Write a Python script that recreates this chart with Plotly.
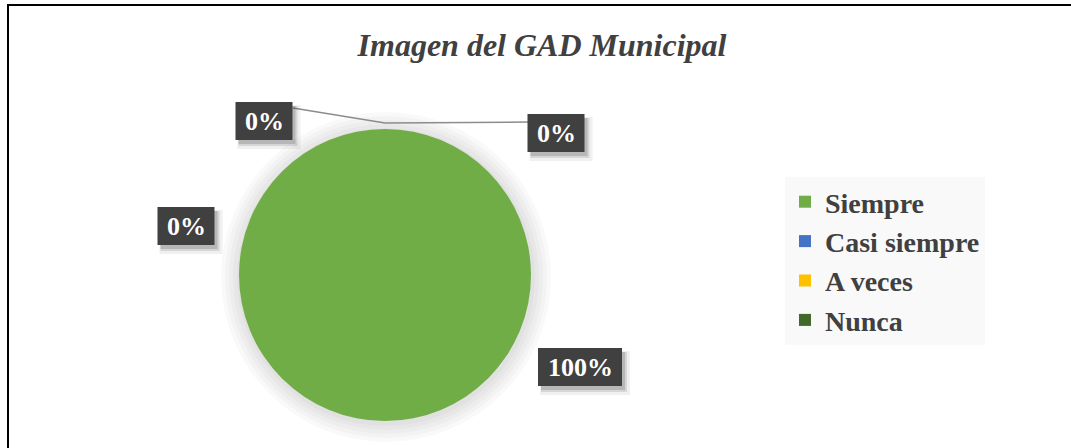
import plotly.graph_objects as go

categories = ["Siempre", "Casi siempre", "A veces", "Nunca"]
values = [100, 0, 0, 0]
colors = ["#70AD47", "#4472C4", "#FFC000", "#43682B"]
title_text = "Imagen del GAD Municipal"

W, H = 1071, 448
total = sum(values)
pct = [f"{round(v * 100 / total)}%" for v in values]

# pie geometry in pixels
PCX, PCY, PR = 385, 275, 146

def px(x, y):
    return x / W, 1 - y / H

fig = go.Figure()

# soft glow behind the pie
for i in range(5):
    r = PR + 3 + 4 * i
    x0, y0 = px(PCX - r + 1, PCY - r + 2)
    x1, y1 = px(PCX + r + 1, PCY + r + 2)
    fig.add_shape(type="circle", xref="paper", yref="paper", x0=x0, y0=y1, x1=x1, y1=y0,
                  fillcolor="rgba(0,0,0,0.022)", line=dict(width=0), layer="below")

fig.add_trace(go.Pie(
    labels=categories,
    values=values,
    marker=dict(colors=colors, line=dict(width=0)),
    textinfo="none",
    sort=False,
    direction="clockwise",
    rotation=0,
    hoverinfo="label+percent",
    domain=dict(x=[(PCX - PR) / W, (PCX + PR) / W], y=[(H - PCY - PR) / H, (H - PCY + PR) / H]),
    showlegend=True,
))

# label box positions (pixels: center x, center y) for each category in order
label_pos = [(580, 367), (556, 133), (264, 121), (186, 226)]

# leader lines
line_pts = [(293, 108), (385, 123), (528, 122)]
for (x0, y0), (x1, y1) in zip(line_pts[:-1], line_pts[1:]):
    a0, b0 = px(x0, y0)
    a1, b1 = px(x1, y1)
    fig.add_shape(type="line", xref="paper", yref="paper", x0=a0, y0=b0, x1=a1, y1=b1,
                  line=dict(color="#8c8c8c", width=1.5))

for t, (cx, cy) in zip(pct, label_pos):
    bw = 84 if len(t) > 2 else 57
    bh = 38
    # shadow (blurred look with stacked translucent rects)
    for dx, dy, grow, al in [(5, 6, 3, 0.08), (4, 5, 1, 0.14), (3, 4, 0, 0.2)]:
        x0, y0 = px(cx - bw / 2 + dx - grow, cy - bh / 2 + dy - grow)
        x1, y1 = px(cx + bw / 2 + dx + grow, cy + bh / 2 + dy + grow)
        fig.add_shape(type="rect", xref="paper", yref="paper", x0=x0, y0=y1, x1=x1, y1=y0,
                      fillcolor=f"rgba(60,60,60,{al})", line=dict(width=0))
    x0, y0 = px(cx - bw / 2, cy - bh / 2)
    x1, y1 = px(cx + bw / 2, cy + bh / 2)
    fig.add_shape(type="rect", xref="paper", yref="paper", x0=x0, y0=y1, x1=x1, y1=y0,
                  fillcolor="#404040", line=dict(width=0))
    ax, ay = px(cx, cy)
    fig.add_annotation(x=ax, y=ay, xref="paper", yref="paper", showarrow=False,
                       xanchor="center", yanchor="middle",
                       text=f"<b>{t}</b>",
                       font=dict(family="Liberation Serif", size=26, color="white"))

# frame
fig.add_shape(type="line", xref="paper", yref="paper", x0=7 / W, x1=1.01, y0=1 - 5 / H, y1=1 - 5 / H,
              line=dict(color="black", width=2))
fig.add_shape(type="line", xref="paper", yref="paper", x0=8 / W, x1=8 / W, y0=1 - 5 / H, y1=-0.02,
              line=dict(color="black", width=2))

fig.update_layout(
    width=W, height=H,
    margin=dict(l=0, r=0, t=0, b=0),
    paper_bgcolor="white",
    plot_bgcolor="white",
    title=dict(text=title_text, x=542 / W, xanchor="center", y=1 - 45 / H, yanchor="middle",
               font=dict(family="Liberation Serif", size=32, color="#404040", weight="bold", style="italic")),
    legend=dict(
        x=785 / W, xanchor="left", y=1 - 177 / H, yanchor="top",
        bgcolor="#f9f9f9",
        font=dict(family="Liberation Serif", size=28, color="#404040", weight="bold"),
        itemwidth=30,
        tracegroupgap=0,
        traceorder="normal",
    ),
)

fig.write_html("out.html", config={"displayModeBar": False},
               post_script="document.body.style.margin='0';document.body.style.overflow='hidden';")
